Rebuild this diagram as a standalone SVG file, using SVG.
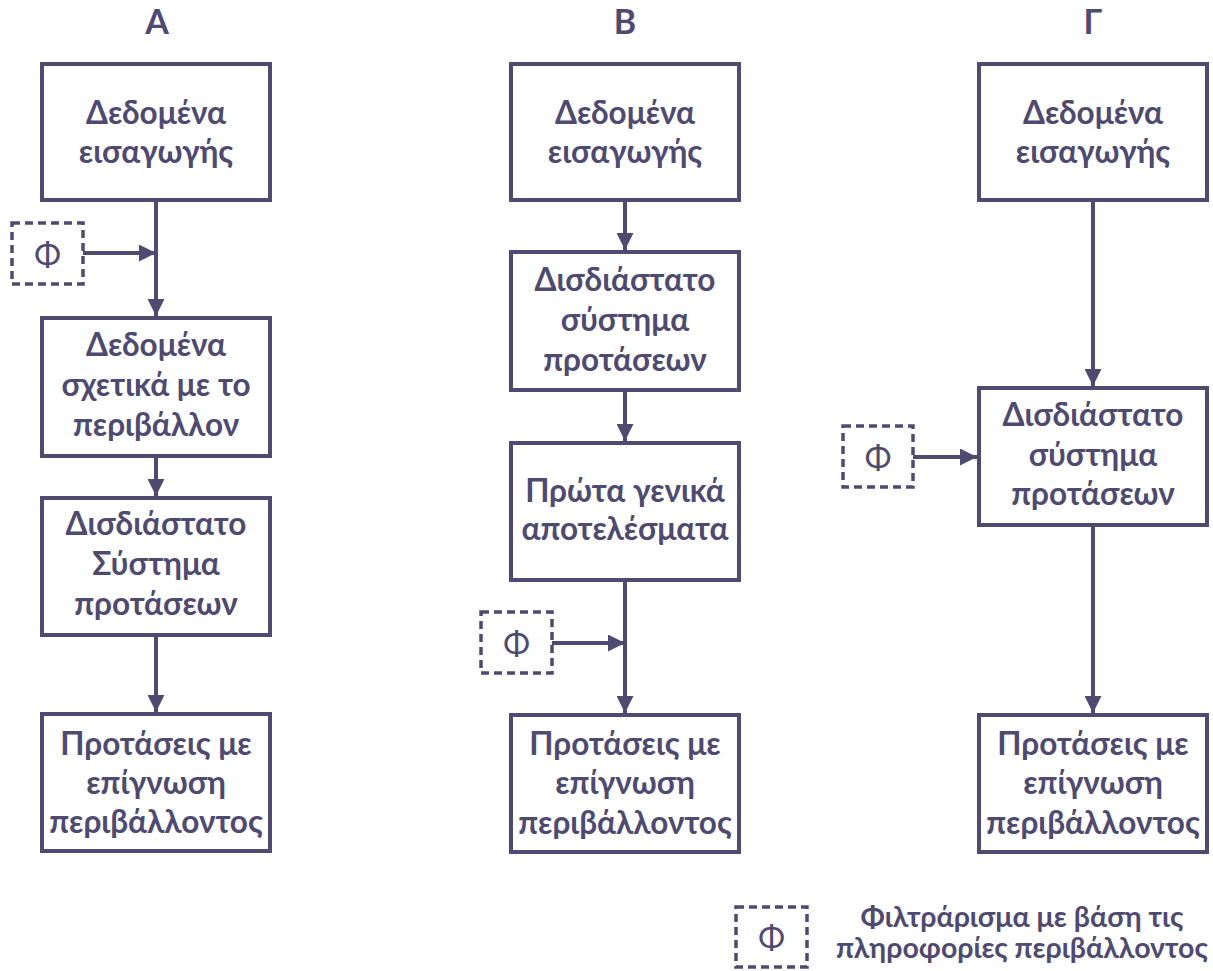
<svg xmlns="http://www.w3.org/2000/svg" width="1213" height="971" viewBox="0 0 1213 971">
<defs>
<style>
.box{fill:#fff;stroke:#4f4a70;stroke-width:4}
.phi{fill:#fff;stroke:#4f4a70;stroke-width:3.5;stroke-dasharray:8 5}
.t{font-family:Lato,"Open Sans",sans-serif;font-weight:bold;font-size:31.5px;fill:#4f4a70;text-anchor:middle}
.h{font-family:Lato,"Open Sans",sans-serif;font-weight:bold;font-size:34px;fill:#4f4a70;text-anchor:middle}
.p{font-family:Lato,"Open Sans",sans-serif;font-size:32px;fill:#4f4a70;text-anchor:middle}
.lg{font-family:Lato,"Open Sans",sans-serif;font-weight:bold;font-size:28.5px;fill:#4f4a70;text-anchor:middle}
.c{fill:none;stroke:#4f4a70;stroke-width:4}
</style>
<marker id="ah" markerUnits="userSpaceOnUse" markerWidth="17" markerHeight="17" refX="17" refY="8.5" orient="auto">
<path d="M0,0 L17,8.5 L0,17 z" fill="#4f4a70"/>
</marker>
</defs>
<rect width="1213" height="971" fill="#fff"/>

<g id="headers">
<text class="h" x="157" y="34">Α</text>
<text class="h" x="625" y="34">Β</text>
<text class="h" x="1093" y="34">Γ</text>
</g>

<g id="connectors">
<line class="c" x1="156" y1="201" x2="156" y2="316" marker-end="url(#ah)"/>
<line class="c" x1="83" y1="253" x2="156" y2="253" marker-end="url(#ah)"/>
<line class="c" x1="156" y1="456" x2="156" y2="496" marker-end="url(#ah)"/>
<line class="c" x1="156" y1="635" x2="156" y2="712" marker-end="url(#ah)"/>
<line class="c" x1="625" y1="200" x2="625" y2="250" marker-end="url(#ah)"/>
<line class="c" x1="625" y1="390" x2="625" y2="441" marker-end="url(#ah)"/>
<line class="c" x1="625" y1="580" x2="625" y2="713" marker-end="url(#ah)"/>
<line class="c" x1="552" y1="643" x2="625" y2="643" marker-end="url(#ah)"/>
<line class="c" x1="1093" y1="200" x2="1093" y2="386" marker-end="url(#ah)"/>
<line class="c" x1="1093" y1="525" x2="1093" y2="713" marker-end="url(#ah)"/>
<line class="c" x1="913" y1="457" x2="977" y2="457" marker-end="url(#ah)"/>
</g>

<g id="A1"><rect class="box" x="42" y="64" width="228" height="136"/>
<text class="t" x="156" y="124">Δεδομένα</text><text class="t" x="156" y="163">εισαγωγής</text></g>
<g id="PhiA"><rect class="phi" x="12" y="223" width="71" height="61"/><text class="p" x="47.5" y="266">Φ</text></g>
<g id="A2"><rect class="box" x="42" y="318" width="228" height="138"/>
<text class="t" x="156" y="356">Δεδομένα</text><text class="t" x="156" y="396">σχετικά με το</text><text class="t" x="156" y="436">περιβάλλον</text></g>
<g id="A3"><rect class="box" x="42" y="498" width="228" height="137"/>
<text class="t" x="156" y="535">Δισδιάστατο</text><text class="t" x="156" y="575">Σύστημα</text><text class="t" x="156" y="615">προτάσεων</text></g>
<g id="A4"><rect class="box" x="42" y="714" width="228" height="137"/>
<text class="t" x="156" y="755">Προτάσεις με</text><text class="t" x="156" y="794">επίγνωση</text><text class="t" x="156" y="833">περιβάλλοντος</text></g>

<g id="B1"><rect class="box" x="511" y="64" width="228" height="136"/>
<text class="t" x="625" y="124">Δεδομένα</text><text class="t" x="625" y="163">εισαγωγής</text></g>
<g id="B2"><rect class="box" x="511" y="252" width="228" height="138"/>
<text class="t" x="625" y="291">Δισδιάστατο</text><text class="t" x="625" y="331">σύστημα</text><text class="t" x="625" y="371">προτάσεων</text></g>
<g id="B3"><rect class="box" x="511" y="443" width="228" height="137"/>
<text class="t" x="625" y="502">Πρώτα γενικά</text><text class="t" x="625" y="540">αποτελέσματα</text></g>
<g id="PhiB"><rect class="phi" x="481" y="612" width="71" height="61"/><text class="p" x="516.5" y="655">Φ</text></g>
<g id="B4"><rect class="box" x="511" y="715" width="228" height="137"/>
<text class="t" x="625" y="755">Προτάσεις με</text><text class="t" x="625" y="794">επίγνωση</text><text class="t" x="625" y="834">περιβάλλοντος</text></g>

<g id="C1"><rect class="box" x="979" y="64" width="228" height="136"/>
<text class="t" x="1093" y="124">Δεδομένα</text><text class="t" x="1093" y="163">εισαγωγής</text></g>
<g id="PhiC"><rect class="phi" x="843" y="426" width="70" height="61"/><text class="p" x="878" y="469">Φ</text></g>
<g id="C2"><rect class="box" x="979" y="388" width="228" height="137"/>
<text class="t" x="1093" y="426">Δισδιάστατο</text><text class="t" x="1093" y="466">σύστημα</text><text class="t" x="1093" y="505">προτάσεων</text></g>
<g id="C4"><rect class="box" x="979" y="715" width="228" height="137"/>
<text class="t" x="1093" y="755">Προτάσεις με</text><text class="t" x="1093" y="794">επίγνωση</text><text class="t" x="1093" y="834">περιβάλλοντος</text></g>

<g id="legend"><rect class="phi" x="736" y="907" width="71" height="60"/><text class="p" x="771.5" y="949">Φ</text>
<text class="lg" x="1022" y="927">Φιλτράρισμα με βάση τις</text><text class="lg" x="1022" y="958">πληροφορίες περιβάλλοντος</text></g>
</svg>
